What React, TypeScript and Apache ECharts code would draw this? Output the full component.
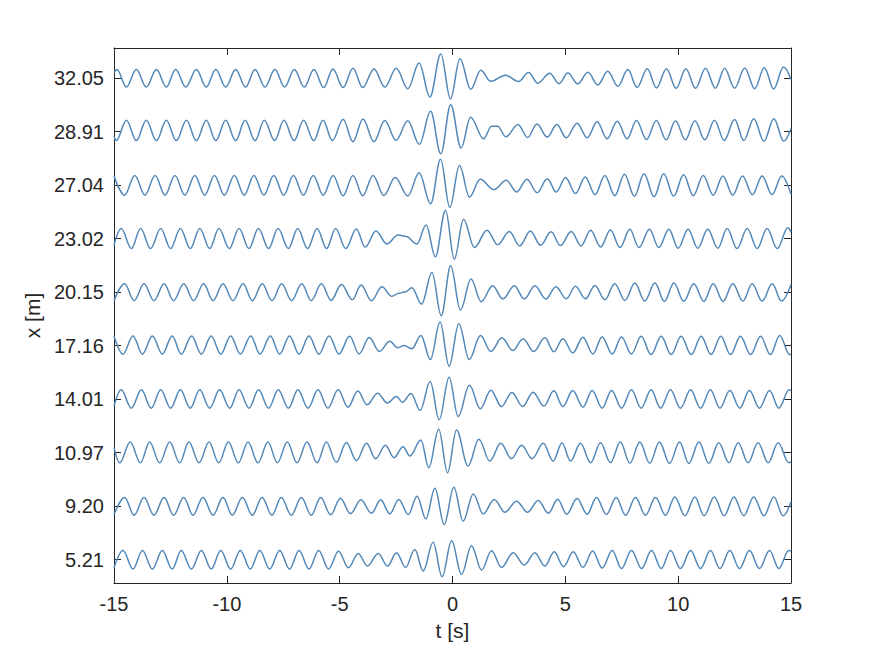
import React, { useEffect, useRef } from "react";
import * as echarts from "echarts";

// Tick labels of the y axis (receiver positions, bottom to top)
const positionLabels = ["5.21", "9.20", "10.97", "14.01", "17.16", "20.15", "23.02", "27.04", "28.91", "32.05"];
const xTickValues = [-15, -10, -5, 0, 5, 10, 15];

// Each trace: [t (s), amplitude offset from its row] read at extrema from the picture
const trace_5_21: [number, number][] = [
  [-15, -0.15], [-14.6, 0.174], [-14.16, -0.174], [-13.74, 0.174], [-13.3, -0.174], [-12.86, 0.174], [-12.42, -0.174], [-12.02, 0.174], [-11.57, -0.174], [-11.13, 0.174], [-10.69, -0.174], [-10.27, 0.174], [-9.83, -0.174], [-9.4, 0.174], [-8.96, -0.174], [-8.54, 0.174], [-8.1, -0.174], [-7.66, 0.174], [-7.22, -0.174], [-6.8, 0.174], [-6.36, -0.174], [-5.93, 0.174], [-5.49, -0.174], [-5.05, 0.16], [-4.61, -0.15], [-4.18, 0.118], [-3.77, -0.118], [-3.29, 0.118], [-2.88, -0.118], [-2.48, 0.13], [-2.08, -0.143], [-1.67, 0.193], [-1.3, -0.212], [-0.86, 0.324], [-0.46, -0.318], [-0.04, 0.355], [0.4, -0.274], [0.84, 0.26], [1.29, -0.193], [1.73, 0.168], [2.17, -0.143], [2.69, 0.13], [3.18, -0.1], [3.65, 0.13], [4.09, -0.118], [4.51, 0.15], [4.92, -0.13], [5.35, 0.15], [5.78, -0.143], [6.21, 0.162], [6.63, -0.156], [7.08, 0.174], [7.49, -0.162], [7.93, 0.174], [8.38, -0.162], [8.82, 0.174], [9.25, -0.162], [9.66, 0.174], [10.1, -0.162], [10.55, 0.174], [10.99, -0.162], [11.43, 0.174], [11.85, -0.162], [12.29, 0.174], [12.72, -0.162], [13.16, 0.174], [13.6, -0.162], [14.05, 0.174], [14.46, -0.162], [14.9, 0.174], [15, 0.16],
];
const trace_9_20: [number, number][] = [
  [-15, -0.16], [-14.53, 0.162], [-14.11, -0.168], [-13.67, 0.162], [-13.23, -0.168], [-12.78, 0.162], [-12.36, -0.168], [-11.91, 0.162], [-11.5, -0.168], [-11.06, 0.162], [-10.61, -0.168], [-10.17, 0.162], [-9.76, -0.168], [-9.31, 0.162], [-8.87, -0.168], [-8.44, 0.162], [-8.0, -0.168], [-7.59, 0.162], [-7.14, -0.168], [-6.7, 0.162], [-6.26, -0.168], [-5.84, 0.162], [-5.4, -0.16], [-4.97, 0.15], [-4.52, -0.14], [-4.06, 0.118], [-3.59, -0.13], [-3.18, 0.118], [-2.78, -0.143], [-2.38, 0.125], [-1.96, -0.156], [-1.57, 0.187], [-1.18, -0.237], [-0.78, 0.336], [-0.37, -0.342], [0.06, 0.355], [0.47, -0.28], [0.92, 0.23], [1.36, -0.143], [1.85, 0.125], [2.32, -0.112], [2.84, 0.093], [3.32, -0.112], [3.8, 0.106], [4.25, -0.13], [4.66, 0.13], [5.06, -0.15], [5.52, 0.143], [5.97, -0.15], [6.38, 0.162], [6.82, -0.156], [7.25, 0.162], [7.67, -0.168], [8.11, 0.162], [8.55, -0.168], [9.0, 0.162], [9.44, -0.168], [9.85, 0.174], [10.3, -0.18], [10.74, 0.174], [11.15, -0.18], [11.6, 0.174], [12.04, -0.18], [12.47, 0.174], [12.91, -0.18], [13.35, 0.174], [13.8, -0.18], [14.24, 0.174], [14.65, -0.18], [15, 0.08],
];
const trace_10_97: [number, number][] = [
  [-15, 0.1], [-14.75, -0.19], [-14.28, 0.2], [-13.83, -0.19], [-13.42, 0.2], [-12.98, -0.19], [-12.53, 0.2], [-12.09, -0.19], [-11.68, 0.2], [-11.23, -0.19], [-10.79, 0.2], [-10.36, -0.19], [-9.93, 0.2], [-9.49, -0.19], [-9.06, 0.2], [-8.62, -0.19], [-8.18, 0.2], [-7.76, -0.19], [-7.32, 0.2], [-6.89, -0.19], [-6.45, 0.2], [-6.0, -0.19], [-5.59, 0.2], [-5.15, -0.18], [-4.7, 0.19], [-4.26, -0.15], [-3.81, 0.174], [-3.41, -0.112], [-2.97, 0.137], [-2.59, -0.093], [-2.19, 0.112], [-1.89, -0.062], [-1.4, 0.237], [-1.05, -0.28], [-0.61, 0.436], [-0.22, -0.374], [0.18, 0.423], [0.69, -0.25], [1.17, 0.25], [1.65, -0.156], [2.14, 0.174], [2.61, -0.112], [3.06, 0.137], [3.53, -0.112], [4.02, 0.174], [4.46, -0.156], [4.85, 0.18], [5.23, -0.156], [5.67, 0.174], [6.12, -0.187], [6.56, 0.187], [7.0, -0.187], [7.44, 0.2], [7.86, -0.2], [8.3, 0.2], [8.74, -0.2], [9.17, 0.2], [9.62, -0.2], [10.06, 0.2], [10.47, -0.2], [10.92, 0.2], [11.36, -0.2], [11.8, 0.187], [12.25, -0.187], [12.66, 0.187], [13.1, -0.187], [13.54, 0.187], [13.99, -0.187], [14.43, 0.187], [14.9, -0.187], [15, -0.17],
];
const trace_14_01: [number, number][] = [
  [-15, -0.13], [-14.68, 0.174], [-14.23, -0.168], [-13.79, 0.174], [-13.35, -0.168], [-12.93, 0.174], [-12.49, -0.168], [-12.06, 0.174], [-11.62, -0.168], [-11.2, 0.174], [-10.76, -0.168], [-10.32, 0.174], [-9.87, -0.168], [-9.46, 0.174], [-9.02, -0.168], [-8.59, 0.174], [-8.15, -0.168], [-7.72, 0.174], [-7.27, -0.168], [-6.85, 0.174], [-6.4, -0.168], [-5.96, 0.174], [-5.52, -0.168], [-5.07, 0.174], [-4.63, -0.15], [-4.2, 0.15], [-3.78, -0.106], [-3.32, 0.112], [-2.89, -0.07], [-2.48, 0.05], [-2.22, -0.06], [-1.84, 0.105], [-1.43, -0.21], [-0.99, 0.33], [-0.59, -0.386], [-0.15, 0.41], [0.25, -0.324], [0.75, 0.26], [1.23, -0.18], [1.7, 0.168], [2.17, -0.14], [2.63, 0.125], [3.11, -0.137], [3.57, 0.13], [4.05, -0.13], [4.49, 0.155], [4.89, -0.137], [5.33, 0.162], [5.78, -0.15], [6.19, 0.162], [6.63, -0.168], [7.05, 0.162], [7.49, -0.168], [7.93, 0.174], [8.36, -0.168], [8.8, 0.174], [9.22, -0.168], [9.66, 0.174], [10.1, -0.168], [10.55, 0.174], [10.99, -0.168], [11.43, 0.174], [11.85, -0.168], [12.29, 0.162], [12.73, -0.168], [13.16, 0.162], [13.6, -0.168], [14.05, 0.162], [14.46, -0.168], [14.92, 0.174], [15, 0.16],
];
const trace_17_16: [number, number][] = [
  [-15, 0.18], [-14.6, -0.16], [-14.16, 0.18], [-13.74, -0.16], [-13.3, 0.18], [-12.86, -0.16], [-12.42, 0.18], [-12.02, -0.16], [-11.56, 0.18], [-11.13, -0.16], [-10.69, 0.18], [-10.27, -0.16], [-9.83, 0.18], [-9.4, -0.16], [-8.94, 0.18], [-8.53, -0.16], [-8.07, 0.18], [-7.66, -0.16], [-7.22, 0.18], [-6.8, -0.16], [-6.36, 0.18], [-5.92, -0.16], [-5.47, 0.18], [-5.03, -0.156], [-4.56, 0.174], [-4.14, -0.156], [-3.69, 0.15], [-3.24, -0.11], [-2.78, 0.08], [-2.43, -0.04], [-2.15, 0.0], [-1.8, -0.06], [-1.4, 0.19], [-0.98, -0.26], [-0.55, 0.44], [-0.15, -0.385], [0.28, 0.41], [0.74, -0.26], [1.24, 0.187], [1.7, -0.11], [2.19, 0.145], [2.67, -0.09], [3.13, 0.13], [3.6, -0.11], [4.09, 0.145], [4.49, -0.115], [4.89, 0.13], [5.33, -0.137], [5.78, 0.156], [6.22, -0.156], [6.63, 0.162], [7.08, -0.156], [7.49, 0.162], [7.93, -0.156], [8.36, 0.174], [8.8, -0.168], [9.25, 0.174], [9.69, -0.168], [10.13, 0.174], [10.58, -0.168], [11.02, 0.174], [11.46, -0.168], [11.89, 0.174], [12.32, -0.168], [12.76, 0.174], [13.21, -0.168], [13.65, 0.174], [14.09, -0.168], [14.5, 0.19], [14.94, -0.168], [15, -0.165],
];
const trace_20_15: [number, number][] = [
  [-15, -0.16], [-14.53, 0.155], [-14.11, -0.16], [-13.67, 0.155], [-13.23, -0.16], [-12.78, 0.155], [-12.36, -0.16], [-11.91, 0.155], [-11.47, -0.16], [-11.03, 0.155], [-10.61, -0.16], [-10.17, 0.155], [-9.73, -0.16], [-9.28, 0.155], [-8.87, -0.16], [-8.43, 0.155], [-8.0, -0.16], [-7.57, 0.155], [-7.13, -0.16], [-6.68, 0.155], [-6.26, -0.16], [-5.81, 0.155], [-5.38, -0.155], [-4.92, 0.143], [-4.44, -0.143], [-4.05, 0.13], [-3.59, -0.162], [-3.13, 0.1], [-2.69, -0.08], [-2.38, -0.02], [-2.1, 0.0], [-1.8, 0.08], [-1.37, -0.224], [-0.91, 0.367], [-0.5, -0.44], [-0.08, 0.49], [0.35, -0.336], [0.82, 0.243], [1.27, -0.18], [1.78, 0.118], [2.23, -0.13], [2.74, 0.118], [3.18, -0.13], [3.65, 0.118], [4.14, -0.13], [4.58, 0.1], [5.04, -0.125], [5.45, 0.11], [5.89, -0.125], [6.31, 0.125], [6.75, -0.143], [7.19, 0.156], [7.64, -0.156], [8.08, 0.168], [8.52, -0.168], [8.97, 0.168], [9.39, -0.174], [9.81, 0.168], [10.25, -0.174], [10.69, 0.156], [11.14, -0.174], [11.55, 0.156], [11.99, -0.174], [12.42, 0.156], [12.87, -0.168], [13.28, 0.156], [13.72, -0.168], [14.17, 0.156], [14.58, -0.168], [15, 0.14],
];
const trace_23_02: [number, number][] = [
  [-15, -0.12], [-14.68, 0.187], [-14.23, -0.187], [-13.82, 0.187], [-13.38, -0.187], [-12.93, 0.187], [-12.49, -0.187], [-12.06, 0.187], [-11.62, -0.187], [-11.2, 0.187], [-10.76, -0.187], [-10.35, 0.187], [-9.89, -0.187], [-9.46, 0.187], [-9.02, -0.187], [-8.6, 0.187], [-8.15, -0.187], [-7.73, 0.187], [-7.27, -0.187], [-6.86, 0.187], [-6.42, -0.187], [-6.0, 0.187], [-5.58, -0.187], [-5.18, 0.187], [-4.73, -0.187], [-4.26, 0.18], [-3.87, -0.16], [-3.39, 0.143], [-2.91, -0.1], [-2.41, 0.065], [-2.05, 0.04], [-1.58, -0.1], [-1.17, 0.255], [-0.76, -0.34], [-0.31, 0.53], [0.08, -0.386], [0.49, 0.36], [0.97, -0.168], [1.53, 0.156], [2.0, -0.118], [2.52, 0.13], [2.98, -0.137], [3.45, 0.143], [3.9, -0.125], [4.37, 0.125], [4.78, -0.13], [5.26, 0.13], [5.7, -0.137], [6.12, 0.156], [6.56, -0.156], [7.0, 0.162], [7.42, -0.168], [7.86, 0.174], [8.26, -0.168], [8.73, 0.174], [9.14, -0.168], [9.59, 0.174], [10.0, -0.18], [10.44, 0.174], [10.87, -0.18], [11.31, 0.174], [11.76, -0.18], [12.17, 0.187], [12.61, -0.187], [13.06, 0.187], [13.5, -0.187], [13.94, 0.187], [14.39, -0.187], [14.86, 0.2], [15, 0.12],
];
const trace_27_04: [number, number][] = [
  [-15, 0.17], [-14.53, -0.19], [-14.08, 0.18], [-13.63, -0.19], [-13.18, 0.18], [-12.74, -0.19], [-12.3, 0.18], [-11.86, -0.19], [-11.42, 0.18], [-10.98, -0.19], [-10.55, 0.18], [-10.11, -0.19], [-9.67, 0.18], [-9.23, -0.19], [-8.8, 0.18], [-8.36, -0.19], [-7.92, 0.18], [-7.48, -0.19], [-7.05, 0.18], [-6.61, -0.19], [-6.17, 0.18], [-5.73, -0.19], [-5.29, 0.18], [-4.85, -0.2], [-4.41, 0.18], [-3.98, -0.2], [-3.52, 0.18], [-3.04, -0.195], [-2.54, 0.14], [-1.98, -0.205], [-1.48, 0.23], [-0.97, -0.35], [-0.53, 0.48], [-0.12, -0.42], [0.31, 0.367], [0.75, -0.224], [1.23, 0.106], [1.83, -0.087], [2.39, 0.087], [2.84, -0.13], [3.3, 0.106], [3.75, -0.143], [4.2, 0.118], [4.6, -0.13], [5.01, 0.14], [5.45, -0.16], [5.88, 0.15], [6.32, -0.18], [6.75, 0.18], [7.19, -0.2], [7.62, 0.2], [8.06, -0.21], [8.49, 0.21], [8.93, -0.22], [9.36, 0.21], [9.8, -0.21], [10.24, 0.19], [10.67, -0.2], [11.11, 0.18], [11.55, -0.19], [11.98, 0.17], [12.42, -0.19], [12.85, 0.17], [13.29, -0.18], [13.72, 0.17], [14.16, -0.18], [14.59, 0.17], [15, -0.17],
];
const trace_28_91: [number, number][] = [
  [-15, -0.09], [-14.9, -0.17], [-14.45, 0.21], [-14.01, -0.17], [-13.57, 0.21], [-13.12, -0.17], [-12.68, 0.21], [-12.24, -0.17], [-11.79, 0.21], [-11.35, -0.17], [-10.91, 0.21], [-10.49, -0.17], [-10.05, 0.21], [-9.61, -0.17], [-9.19, 0.21], [-8.75, -0.17], [-8.34, 0.21], [-7.88, -0.17], [-7.47, 0.21], [-7.02, -0.17], [-6.6, 0.21], [-6.15, -0.17], [-5.74, 0.21], [-5.32, -0.17], [-4.85, 0.23], [-4.41, -0.19], [-3.97, 0.235], [-3.48, -0.19], [-3.0, 0.205], [-2.5, -0.165], [-1.98, 0.2], [-1.47, -0.24], [-0.97, 0.378], [-0.52, -0.417], [-0.08, 0.5], [0.38, -0.31], [0.8, 0.268], [1.38, -0.137], [1.73, 0.1], [2.0, 0.1], [2.37, -0.1], [2.9, 0.13], [3.33, -0.112], [3.74, 0.14], [4.2, -0.105], [4.62, 0.13], [5.04, -0.118], [5.52, 0.156], [5.97, -0.118], [6.41, 0.18], [6.85, -0.137], [7.3, 0.193], [7.74, -0.137], [8.15, 0.205], [8.6, -0.15], [9.03, 0.205], [9.47, -0.156], [9.88, 0.2], [10.32, -0.156], [10.74, 0.2], [11.18, -0.156], [11.61, 0.21], [12.04, -0.168], [12.5, 0.224], [12.91, -0.168], [13.35, 0.237], [13.8, -0.18], [14.24, 0.237], [14.68, -0.18], [15, 0.05],
];
const trace_32_05: [number, number][] = [
  [-15, 0.1], [-14.87, 0.16], [-14.45, -0.17], [-14.01, 0.16], [-13.57, -0.17], [-13.12, 0.16], [-12.68, -0.17], [-12.27, 0.16], [-11.82, -0.17], [-11.35, 0.16], [-10.91, -0.17], [-10.49, 0.16], [-10.05, -0.17], [-9.61, 0.16], [-9.17, -0.17], [-8.75, 0.16], [-8.31, -0.17], [-7.87, 0.16], [-7.44, -0.17], [-7.01, 0.16], [-6.57, -0.17], [-6.14, 0.16], [-5.71, -0.18], [-5.3, 0.17], [-4.85, -0.18], [-4.41, 0.18], [-3.98, -0.18], [-3.48, 0.17], [-3.0, -0.17], [-2.49, 0.18], [-1.98, -0.2], [-1.48, 0.28], [-1.0, -0.355], [-0.52, 0.45], [-0.09, -0.39], [0.33, 0.36], [0.81, -0.21], [1.25, 0.145], [1.7, -0.062], [2.35, 0.053], [2.93, -0.065], [3.37, 0.103], [3.78, -0.097], [4.31, 0.09], [4.72, -0.106], [5.11, 0.093], [5.55, -0.112], [6.0, 0.106], [6.44, -0.13], [6.88, 0.125], [7.33, -0.156], [7.77, 0.156], [8.18, -0.174], [8.63, 0.174], [9.04, -0.187], [9.48, 0.174], [9.91, -0.193], [10.34, 0.174], [10.77, -0.193], [11.21, 0.18], [11.65, -0.193], [12.06, 0.18], [12.5, -0.193], [12.95, 0.187], [13.39, -0.2], [13.82, 0.193], [14.23, -0.205], [14.67, 0.205], [15, -0.03],
];

const traces = [
  trace_5_21, trace_9_20, trace_10_97, trace_14_01, trace_17_16,
  trace_20_15, trace_23_02, trace_27_04, trace_28_91, trace_32_05,
];

export default function App() {
  const ref = useRef<HTMLDivElement>(null);
  useEffect(() => {
    document.body.style.margin = "0";
    const chart = echarts.init(ref.current!, null, { renderer: "svg" });
    const font = "'Liberation Sans', Arial, Helvetica, sans-serif";
    const axisColor = "#262626";
    const lineColor = "#5288b8";
    const rows = positionLabels.map((_, i) => i + 1);
    const yMin = 0.565;
    const yMax = 10.56;
    const xCommon = {
      type: "value",
      min: xTickValues[0],
      max: xTickValues[xTickValues.length - 1],
      interval: 5,
      splitLine: { show: false },
      axisLine: { show: true, onZero: false, lineStyle: { color: axisColor, width: 1 } },
      axisTick: { show: true, inside: true, length: 7, lineStyle: { color: axisColor, width: 1 } },
    };
    const yCommon = {
      type: "value",
      min: yMin,
      max: yMax,
      splitLine: { show: false },
      axisLine: { show: true, onZero: false, lineStyle: { color: axisColor, width: 1 } },
      axisTick: { show: true, inside: true, length: 7, customValues: rows, lineStyle: { color: axisColor, width: 1 } },
    };
    chart.setOption({
      animation: false,
      backgroundColor: "#ffffff",
      textStyle: { fontFamily: font },
      grid: { left: 114, right: 84, top: 48, bottom: 73, containLabel: false, outerBoundsMode: "none" },
      xAxis: [
        {
          ...xCommon,
          position: "bottom",
          name: "t [s]",
          nameLocation: "middle",
          nameGap: 37,
          nameTextStyle: { color: axisColor, fontSize: 21, fontFamily: font },
          axisLabel: { show: true, color: axisColor, fontSize: 20, fontFamily: font, margin: 11 },
        },
        {
          ...xCommon,
          position: "top",
          axisLabel: { show: false },
        },
      ],
      yAxis: [
        {
          ...yCommon,
          position: "left",
          name: "x [m]",
          nameLocation: "middle",
          nameGap: 70,
          nameTextStyle: { color: axisColor, fontSize: 21, fontFamily: font },
          axisLabel: {
            show: true,
            color: axisColor,
            fontSize: 20,
            fontFamily: font,
            margin: 10,
            customValues: rows,
            formatter: (v: number) => positionLabels[Math.round(v) - 1] ?? "",
          },
        },
        {
          ...yCommon,
          position: "right",
          axisLabel: { show: false },
        },
      ],
      series: traces.map((tr, i) => ({
        type: "line",
        name: positionLabels[i],
        xAxisIndex: 0,
        yAxisIndex: 0,
        data: tr.map(([t, v]) => [t, i + 1 + v]),
        showSymbol: false,
        symbol: "none",
        smooth: 0.363,
        smoothMonotone: "x",
        silent: true,
        lineStyle: { color: lineColor, width: 1.5 },
      })),
    });
    return () => chart.dispose();
  }, []);
  return <div ref={ref} style={{ width: 875, height: 656 }} />;
}
